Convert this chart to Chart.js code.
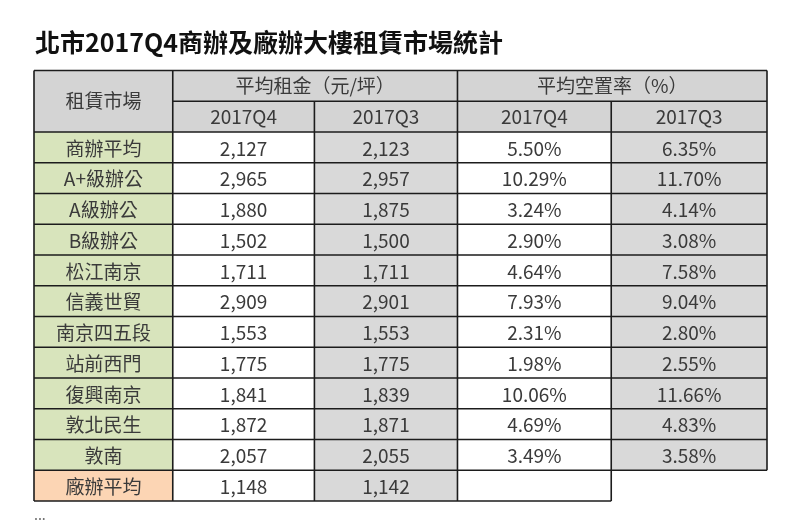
<!DOCTYPE html>
<html>
<head>
<meta charset="utf-8">
<script src="https://cdn.jsdelivr.net/npm/chart.js@4.4.0/dist/chart.umd.min.js"></script>
<style>
  html, body { margin: 0; padding: 0; background: #fff; }
  #wrap { width: 800px; height: 530px; }
</style>
</head>
<body>
<div id="wrap"><canvas id="table" width="800" height="530"></canvas></div>
<script>
// Table data
const markets = ["商辦平均", "A+級辦公", "A級辦公", "B級辦公", "松江南京", "信義世貿",
  "南京四五段", "站前西門", "復興南京", "敦北民生", "敦南", "廠辦平均"];
const rentQ4 = [2127, 2965, 1880, 1502, 1711, 2909, 1553, 1775, 1841, 1872, 2057, 1148];
const rentQ3 = [2123, 2957, 1875, 1500, 1711, 2901, 1553, 1775, 1839, 1871, 2055, 1142];
const vacQ4 = [5.50, 10.29, 3.24, 2.90, 4.64, 7.93, 2.31, 1.98, 10.06, 4.69, 3.49, null];
const vacQ3 = [6.35, 11.70, 4.14, 3.08, 7.58, 9.04, 2.80, 2.55, 11.66, 4.83, 3.58, null];
const groupHeaders = ["平均租金（元/坪）", "平均空置率（%）"];
const periods = ["2017Q4", "2017Q3"];
const title = "北市2017Q4商辦及廠辦大樓租賃市場統計";

// Layout: column edges in x-scale units (px from table left)
const edges = [0, 138.7, 280.3, 423.3, 577, 732.7];
const FONT = '"Noto Sans CJK TC", "Noto Sans", sans-serif';
const LINE = "#1c1c1c";
const TEXT = "#3a3a3a";
const HEAD_BG = "#d4d4d4";
const GRAY = "#d9d9d9";
const GREEN = "#d8e4bc";
const PEACH = "#fcd5b4";

const fmtRent = (v) => v.toLocaleString("en-US");
const fmtVac = (v) => (v == null ? "" : v.toFixed(2) + "%");

const columns = [
  { text: markets, color: markets.map((m, i) => (i === markets.length - 1 ? PEACH : GREEN)) },
  { text: rentQ4.map(fmtRent), color: "#ffffff" },
  { text: rentQ3.map(fmtRent), color: GRAY },
  { text: vacQ4.map(fmtVac), color: "#ffffff", keepEmpty: true },
  { text: vacQ3.map(fmtVac), color: GRAY },
];

const datasets = columns.map((col, c) => ({
  data: col.text.map((t) => (t === "" && !col.keepEmpty ? null : [edges[c], edges[c + 1]])),
  backgroundColor: col.color,
  borderWidth: 0,
  grouped: false,
  categoryPercentage: 1,
  barPercentage: 1,
}));

const tablePlugin = {
  id: "tablePlugin",
  afterDatasetsDraw(chart) {
    const { ctx, chartArea, scales } = chart;
    const xs = scales.x, ys = scales.y;
    const px = edges.map((e) => xs.getPixelForValue(e));
    const rowH = chartArea.height / markets.length;
    const rowTop = (i) => ys.getPixelForValue(i) - rowH / 2;

    ctx.save();
    // header rows
    const hTop = chartArea.top - 2 * rowH;
    ctx.fillStyle = HEAD_BG;
    ctx.fillRect(px[0], hTop, px[5] - px[0], 2 * rowH);

    ctx.strokeStyle = LINE;
    ctx.lineWidth = 1.6;
    ctx.beginPath();
    // horizontal lines
    ctx.moveTo(px[0], hTop); ctx.lineTo(px[5], hTop);
    ctx.moveTo(px[1], hTop + rowH); ctx.lineTo(px[5], hTop + rowH);
    for (let i = 0; i <= markets.length; i++) {
      const y = i === markets.length ? chartArea.bottom : rowTop(i);
      const right = i === markets.length ? px[4] : px[5];
      ctx.moveTo(px[0], y); ctx.lineTo(right, y);
    }
    // vertical lines
    for (let c = 0; c < edges.length; c++) {
      let top = hTop;
      if (c === 2 || c === 4) top = hTop + rowH;
      const bottom = c === 5 ? rowTop(markets.length - 1) : chartArea.bottom;
      ctx.moveTo(px[c], top); ctx.lineTo(px[c], bottom);
    }
    ctx.stroke();

    // text
    ctx.fillStyle = TEXT;
    ctx.textAlign = "center";
    ctx.textBaseline = "middle";
    ctx.font = "19px " + FONT;
    const mid = (a, b) => (a + b) / 2;
    ctx.fillText("租賃市場", mid(px[0], px[1]), hTop + rowH);
    ctx.fillText(groupHeaders[0], mid(px[1], px[3]), hTop + rowH / 2);
    ctx.fillText(groupHeaders[1], mid(px[3], px[5]), hTop + rowH / 2);
    for (let c = 1; c < 5; c++) {
      ctx.fillText(periods[(c - 1) % 2], mid(px[c], px[c + 1]), hTop + rowH * 1.5);
    }
    columns.forEach((col, c) => {
      col.text.forEach((t, i) => {
        if (t) ctx.fillText(t, mid(px[c], px[c + 1]), ys.getPixelForValue(i) + 1);
      });
    });

    // title and trailing dots
    ctx.textAlign = "left";
    ctx.fillStyle = "#111";
    ctx.font = "bold 25px " + FONT;
    ctx.fillText(title, 35, 42);
    ctx.fillStyle = "#666";
    ctx.font = "14px " + FONT;
    ctx.fillText("...", 34, 515);
    ctx.restore();
  },
};

new Chart(document.getElementById("table"), {
  type: "bar",
  data: { labels: markets, datasets },
  options: {
    indexAxis: "y",
    responsive: false,
    animation: false,
    events: [],
    layout: { padding: { left: 34, right: 33, top: 132, bottom: 29 } },
    plugins: { legend: { display: false }, tooltip: { enabled: false }, title: { display: false } },
    scales: {
      x: { type: "linear", min: 0, max: edges[edges.length - 1], display: false },
      y: { type: "category", display: false, offset: true, grid: { display: false } },
    },
  },
  plugins: [tablePlugin],
});
</script>
</body>
</html>
